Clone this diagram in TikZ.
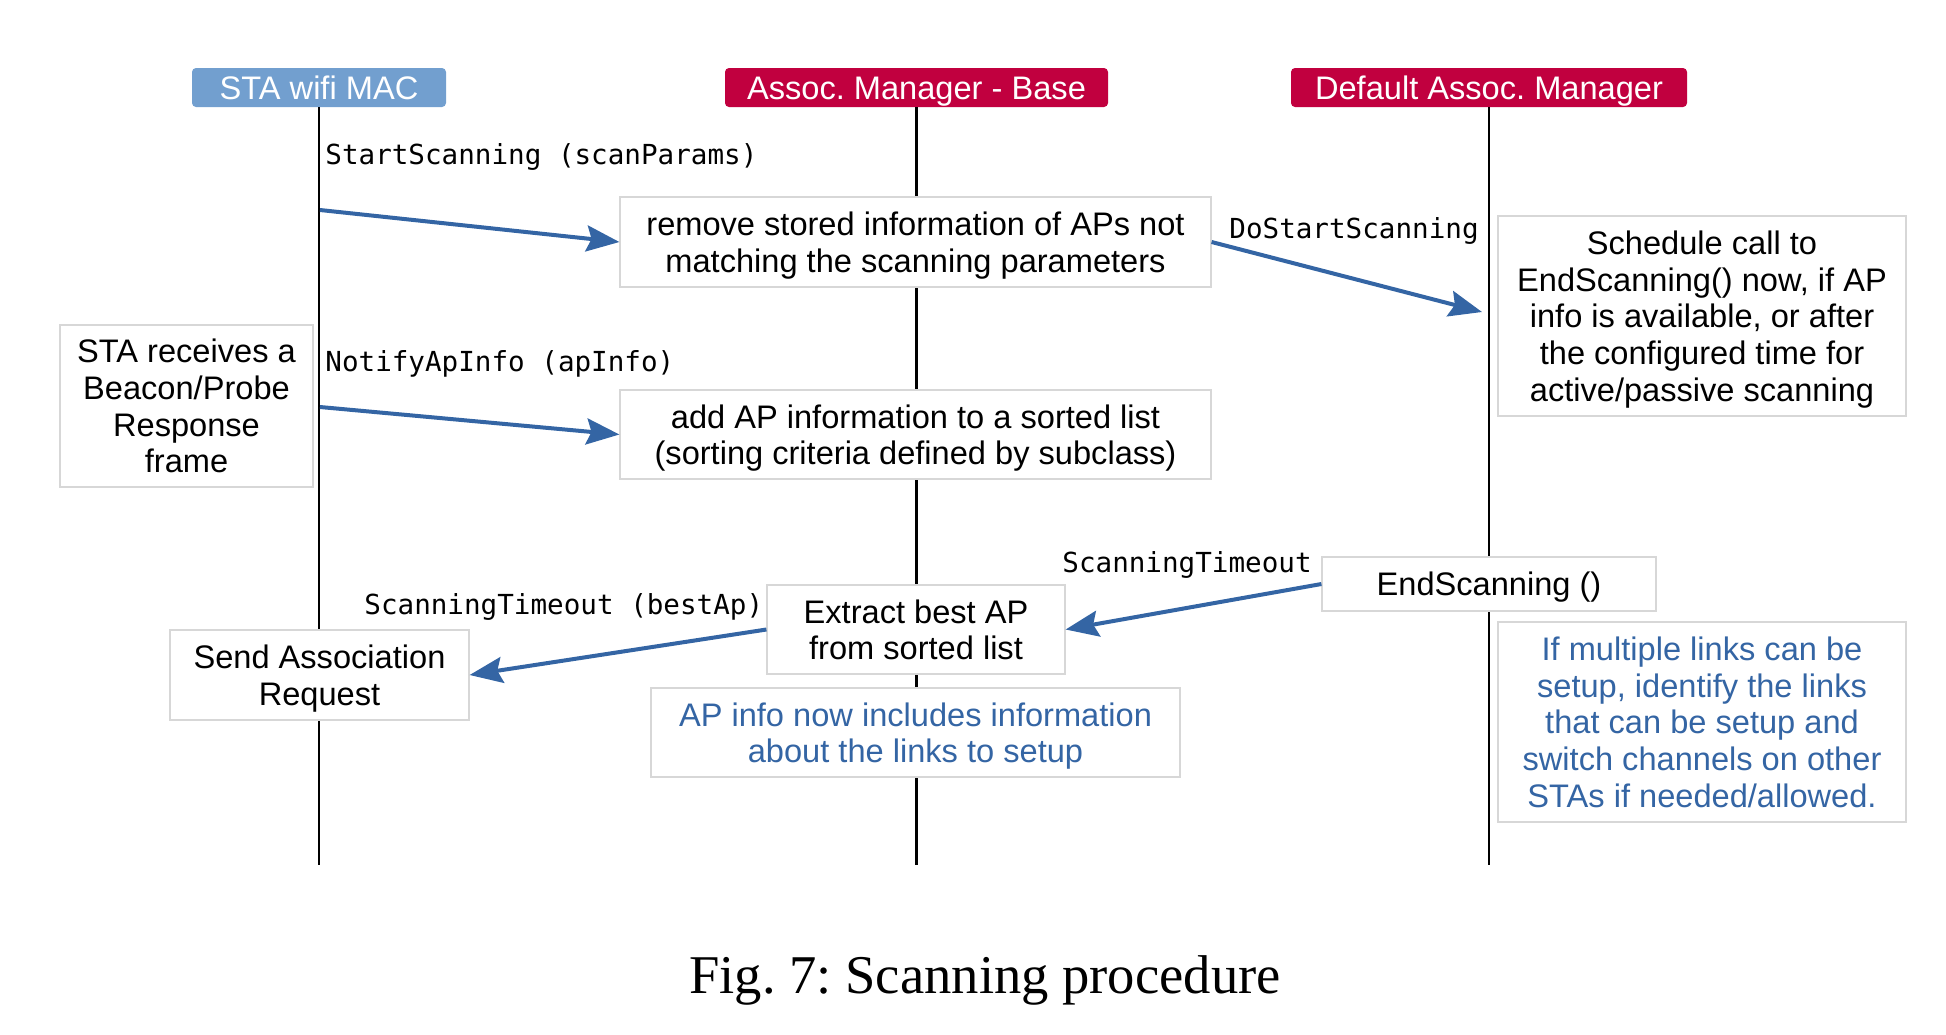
\documentclass[tikz,border=0pt]{standalone}
\usepackage{fontspec}
\setmainfont{Liberation Serif}
\setsansfont{Liberation Sans}
\setmonofont{DejaVu Sans Mono}
\usetikzlibrary{arrows.meta}
\definecolor{hblue}{RGB}{114,159,207}
\definecolor{hred}{RGB}{193,0,63}
\definecolor{ablue}{RGB}{52,101,164}
\definecolor{bgray}{RGB}{215,215,215}
\tikzset{
  header/.style={rounded corners=2pt, text=white, inner sep=0pt, minimum height=19.5pt,
    text height=11.7pt, text depth=0pt,
    font=\sffamily\fontsize{16.3}{18.3}\selectfont},
  lifeline/.style={line width=1.1pt, black},
  box/.style={draw=bgray, line width=0.6pt, fill=white, align=center, inner sep=0pt,
    text depth=0pt, font=\sffamily\fontsize{16.3}{18.3}\selectfont},
  note/.style={box, text=ablue},
  msg/.style={anchor=west, inner sep=0pt, text depth=0pt,
    font=\ttfamily\fontsize{13.8}{16}\selectfont},
  call/.style={draw=ablue, line width=2pt, -{Stealth[length=16.5pt,width=13pt,inset=2.5pt]}, fill=ablue},
}
\begin{document}
\frenchspacing
\begin{tikzpicture}[x=0.5pt,y=-0.5pt]
\useasboundingbox (0,0) rectangle (1946,1034);
% headers
\node[header, fill=hblue, minimum width=127pt] (hSTA) at (319,87.5) {STA wifi MAC};
\node[header, fill=hred, minimum width=191.5pt] (hBase) at (916.5,87.5) {Assoc. Manager - Base};
\node[header, fill=hred, minimum width=198pt] (hDef) at (1489,87.5) {Default Assoc. Manager};
% lifeline ends
\coordinate (eSTA) at (319,865);
\coordinate (eBase) at (916.5,865);
\coordinate (eDef) at (1489,865);
\draw[lifeline] (hSTA.south) -- (eSTA);
\draw[lifeline] (hBase.south) -- (eBase);
\draw[lifeline] (hDef.south) -- (eDef);
% boxes
\node[box, minimum width=295.5pt, minimum height=45pt] (remove) at (915.5,242)
  {remove stored information of APs not\\matching the scanning parameters};
\node[box, minimum width=295.5pt, minimum height=44.5pt] (add) at (915.5,434.5)
  {add AP information to a sorted list\\(sorting criteria defined by subclass)};
\node[box, minimum width=126.5pt, minimum height=81pt] (recv) at (186.5,406)
  {STA receives a\\Beacon/Probe\\Response\\frame};
\node[box, minimum width=204pt, minimum height=100pt] (sched) at (1702,316)
  {Schedule call to\\EndScanning() now, if AP\\info is available, or after\\the configured time for\\active/passive scanning};
\node[box, minimum width=167pt, minimum height=27pt] (endscan) at (1489,584)
  {EndScanning ()};
\node[box, minimum width=149pt, minimum height=44.5pt] (extract) at (916,629.5)
  {Extract best AP\\from sorted list};
\node[box, minimum width=149.5pt, minimum height=45pt] (send) at (319.5,675)
  {Send Association\\Request};
\node[note, minimum width=264.5pt, minimum height=44.5pt] (apinfo) at (915.5,732.5)
  {AP info now includes information\\about the links to setup};
\node[note, minimum width=204pt, minimum height=100pt] (multi) at (1702,722)
  {If multiple links can be\\setup, identify the links\\that can be setup and\\switch channels on other\\STAs if needed/allowed.};
% message labels
\node[msg] (l1) at (325,154) {StartScanning (scanParams)};
\node[msg] (l2) at (1229,228) {DoStartScanning};
\node[msg] (l3) at (325,361) {NotifyApInfo (apInfo)};
\node[msg] (l4) at (1062,562) {ScanningTimeout};
\node[msg] (l5) at (364,604) {ScanningTimeout (bestAp)};
% arrows
\coordinate (s1) at (320,210);
\coordinate (s3) at (320,407);
\coordinate (t2) at (1482,312);
\draw[call] (s1) -- (remove.west);
\draw[call] (remove.east) -- (t2);
\draw[call] (s3) -- (add.west);
\draw[call] (endscan.west) -- (extract.east);
\draw[call] (extract.west) -- (send.east);
% caption
\node[anchor=base, inner sep=0pt, font=\fontsize{27.3}{30}\selectfont] (cap) at (985,993)
  {Fig. 7: Scanning procedure};
\end{tikzpicture}
\end{document}
